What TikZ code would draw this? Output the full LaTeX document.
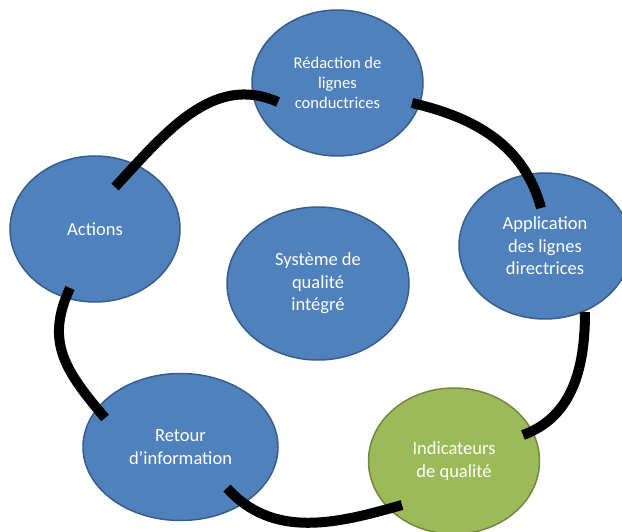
\documentclass[tikz,border=0pt]{standalone}
\usepackage{fontspec}
\setmainfont{Carlito}
\usetikzlibrary{shapes.geometric}
\definecolor{stepblue}{HTML}{4F81BD}
\definecolor{stepblueline}{HTML}{385D8A}
\definecolor{stepgreen}{HTML}{9BBB59}
\definecolor{stepgreenline}{HTML}{71893F}
\tikzset{
  stage/.style={ellipse, draw=stepblueline, fill=stepblue, line width=1.5pt,
    inner sep=0pt, text=white, align=center,
    font=\fontsize{18.5}{22.5}\selectfont},
  loopline/.style={line width=10pt, black}
}
\begin{document}
\begin{tikzpicture}[x=1pt,y=1pt]
\useasboundingbox (0,0) rectangle (622,531);
%% nodes
\node[stage, minimum width=171, minimum height=146,
  font=\fontsize{16.5}{20.3}\selectfont] (redac) at (337.5,448) {Rédaction de\\lignes\\conductrices};
\node[stage, minimum width=172, minimum height=146] (appl) at (545,285) {Application\\des lignes\\directrices};
\node[stage, minimum width=171, minimum height=146,
  draw=stepgreenline, fill=stepgreen] (indic) at (454,70) {Indicateurs\\de qualité};
\node[stage, minimum width=195, minimum height=147] (retour) at (180.5,84) {Retour\\d’information};
\node[stage, minimum width=170, minimum height=146] (actions) at (95,302) {Actions};
\node[stage, minimum width=182, minimum height=153] (sys) at (318,247.5) {Système de\\qualité\\intégré};
%%% edges
\draw[loopline] ([shift={(74.5,-20)}]redac.center) to[out=-13,in=105] ([shift={(-4,38)}]appl.center);
\draw[loopline] ([shift={(40,-66)}]appl.center) to[out=-90,in=20] ([shift={(69,26)}]indic.center);
\draw[loopline] ([shift={(-52,-44)}]indic.center) to[out=196,in=-48] ([shift={(46.5,-41)}]retour.center);
\draw[loopline] ([shift={(-75.5,29)}]retour.center) to[out=130,in=-115,looseness=1.15] ([shift={(-25,-59)}]actions.center);
\draw[loopline] ([shift={(20,42)}]actions.center) to[out=47,in=156] ([shift={(-59.5,-19)}]redac.center);
\end{tikzpicture}
\end{document}
